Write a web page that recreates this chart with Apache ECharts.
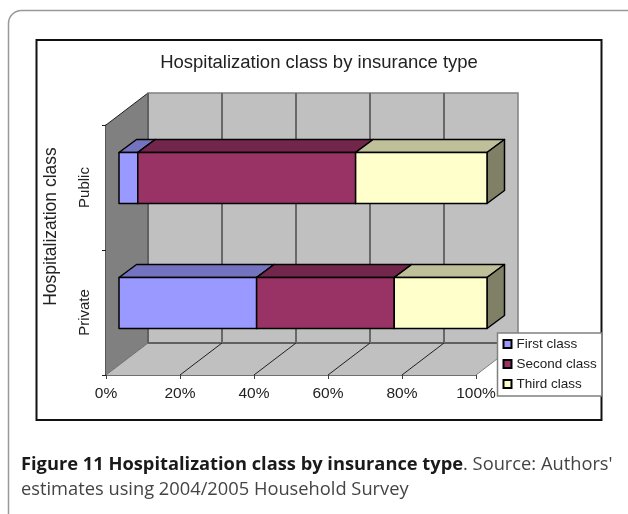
<!DOCTYPE html>
<html><head><meta charset="utf-8">
<style>html,body{margin:0;padding:0;background:#fff}#c{width:628px;height:514px}</style>
<script src="https://cdn.jsdelivr.net/npm/echarts@6/dist/echarts.min.js"></script>
</head><body><div id="c"></div>
<script>
const categories = ['Private', 'Public'];
const seriesNames = ['First class', 'Second class', 'Third class'];
const firstClass = [37.4, 5.1];
const secondClass = [37.4, 59.2];
const thirdClass = [25.2, 35.7];
const xTicks = [0, 20, 40, 60, 80, 100];
const faceColors = ['#9999FF', '#993366', '#FFFFCC'];
const topColors = ['#7373BF', '#73264C', '#BFBF99'];
const sideColors = ['#4D4D80', '#4D1A33', '#808066'];

const DEPTH_X = 42, DEPTH_Y = 32;        // back wall offset
const BAR_X = 13, BAR_Y = 9.5;           // bar front offset
const BAR_DX = 17.5, BAR_DY = 13;        // bar depth
const BAR_H = 51;
const BAR_SCALE = 368 / 370;             // slight perspective shrink of bar plane

const values = [firstClass, secondClass, thirdClass];
function stackData(si) {
  return categories.map((c, ci) => {
    let start = 0;
    for (let k = 0; k < si; k++) start += values[k][ci];
    return [start, start + values[si][ci], ci];
  });
}

function wallRender(params, api) {
  const cs = params.coordSys;
  const l = cs.x, r = cs.x + cs.width, t = cs.y, b = cs.y + cs.height;
  const ch = [];
  const poly = (pts, fill, stroke, w) => ch.push({type:'polygon', shape:{points:pts},
    style:{fill:fill, stroke:stroke, lineWidth:w}});
  const line = (x1,y1,x2,y2,stroke,w) => ch.push({type:'line', shape:{x1,y1,x2,y2},
    style:{stroke:stroke, lineWidth:w}});
  poly([[l+DEPTH_X,t-DEPTH_Y],[r+DEPTH_X,t-DEPTH_Y],[r+DEPTH_X,b-DEPTH_Y],[l+DEPTH_X,b-DEPTH_Y]], '#C0C0C0', '#808080', 1.5);
  poly([[l,b],[r,b],[r+DEPTH_X,b-DEPTH_Y],[l+DEPTH_X,b-DEPTH_Y]], '#C0C0C0', null, 0);
  poly([[l,t],[l+DEPTH_X,t-DEPTH_Y],[l+DEPTH_X,b-DEPTH_Y],[l,b]], '#808080', null, 0);
  line(l,t,l+DEPTH_X,t-DEPTH_Y,'#202020',1);
  line(l,b,l+DEPTH_X,b-DEPTH_Y,'#707070',1);
  line(r,b,r+DEPTH_X,b-DEPTH_Y,'#808080',1);
  line(l+DEPTH_X,t-DEPTH_Y,l+DEPTH_X,b-DEPTH_Y,'#606060',2);
  line(l+DEPTH_X,b-DEPTH_Y,r+DEPTH_X,b-DEPTH_Y,'#606060',2);
  xTicks.forEach(v => {
    if (v === 0) return;
    const x = api.coord([v, 0])[0];
    if (v < 100) {
      line(x+DEPTH_X,t-DEPTH_Y,x+DEPTH_X,b-DEPTH_Y,'#686868',2);
      line(x,b,x+DEPTH_X,b-DEPTH_Y,'#202020',1);
    }
  });
  return {type:'group', children:ch};
}

function barRender(si) {
  return function (params, api) {
    const l = params.coordSys.x;
    const p0 = api.coord([api.value(0), api.value(2)]);
    const p1 = api.coord([api.value(1), api.value(2)]);
    const x0 = l + (p0[0] - l) * BAR_SCALE + BAR_X, x1 = l + (p1[0] - l) * BAR_SCALE + BAR_X;
    const yt = p0[1] - BAR_Y - BAR_H / 2, yb = yt + BAR_H;
    const st = {stroke:'#000', lineWidth:1.5, lineJoin:'round'};
    const ch = [];
    ch.push({type:'polygon', shape:{points:[[x0,yt],[x1,yt],[x1+BAR_DX,yt-BAR_DY],[x0+BAR_DX,yt-BAR_DY]]},
      style:Object.assign({fill:topColors[si]}, st)});
    ch.push({type:'polygon', shape:{points:[[x1,yt],[x1+BAR_DX,yt-BAR_DY],[x1+BAR_DX,yb-BAR_DY],[x1,yb]]},
      style:Object.assign({fill:sideColors[si]}, st)});
    ch.push({type:'rect', shape:{x:x0,y:yt,width:x1-x0,height:BAR_H},
      style:Object.assign({fill:faceColors[si]}, st)});
    return {type:'group', children:ch};
  };
}

const FONT = '"Liberation Sans", Arial, sans-serif';
const chart = echarts.init(document.getElementById('c'), null, {renderer:'canvas'});
chart.setOption({
  animation:false,
  backgroundColor:'#fff',
  title:{text:'Hospitalization class by insurance type', left:319, top:53, textAlign:'center', padding:0,
    textStyle:{fontFamily:FONT, fontSize:18.5, fontWeight:'normal', color:'#222'}},
  grid:{left:106, top:125, width:370, height:250},
  xAxis:{type:'value', min:0, max:100, interval:20,
    axisLabel:{formatter:'{value}%', fontFamily:FONT, fontSize:15.5, color:'#222', margin:11, hideOverlap:false, showMinLabel:true, showMaxLabel:true},
    axisLine:{show:true, lineStyle:{color:'#404040', width:1.5}},
    axisTick:{show:true, length:4, lineStyle:{color:'#404040', width:1}},
    splitLine:{show:false}},
  yAxis:{type:'category', data:categories, name:'Hospitalization class', nameLocation:'middle',
    nameGap:46, nameRotate:90,
    nameTextStyle:{fontFamily:FONT, fontSize:17.5, color:'#222', padding:[0,0,0,47]},
    axisLabel:{rotate:90, fontFamily:FONT, fontSize:15, color:'#222', margin:14},
    axisLine:{show:true, onZero:false, lineStyle:{color:'#202020', width:1.5}},
    axisTick:{show:true, length:4, lineStyle:{color:'#202020', width:1}},
    splitLine:{show:false}},
  legend:{orient:'vertical', left:497.5, top:333, data:seriesNames,
    itemWidth:8, itemHeight:8, itemGap:6, padding:[4,5,5,5],
    icon:'rect', backgroundColor:'#fff', borderColor:'#808080', borderWidth:1.5,
    textStyle:{fontFamily:FONT, fontSize:13.5, color:'#222'},
    selectedMode:false, z:20},
  series:[
    {type:'custom', name:'walls', silent:true, data:[[0,0]], renderItem:wallRender, z:1},
  ].concat(seriesNames.map((n, si) => ({
    type:'custom', name:n, renderItem:barRender(si), z:2+si,
    itemStyle:{color:faceColors[si], borderColor:'#000', borderWidth:1},
    encode:{x:[0,1], y:2}, data:stackData(si)
  }))),
  graphic:[
    {type:'rect', z:-1, shape:{x:36.5,y:40,width:565,height:380}, style:{fill:'#fff',stroke:'#111',lineWidth:2}},
    {type:'rect', z:-2, shape:{x:8.5,y:10.5,width:640,height:600,r:13}, style:{fill:'none',stroke:'#999',lineWidth:1.5}},
    {type:'text', z:5, left:21, top:455.5, style:{
      rich:{b:{fontFamily:'"Open Sans"',fontWeight:'bold',fontSize:18.3,fill:'#1a1a1a',lineHeight:25},
            n:{fontFamily:'"Open Sans"',fontSize:18.3,fill:'#444',lineHeight:25}},
      text:'{b|Figure 11 Hospitalization class by insurance type}{n|. Source: Authors\'}\n{n|estimates using 2004/2005 Household Survey}'}}
  ]
});
</script></body></html>
